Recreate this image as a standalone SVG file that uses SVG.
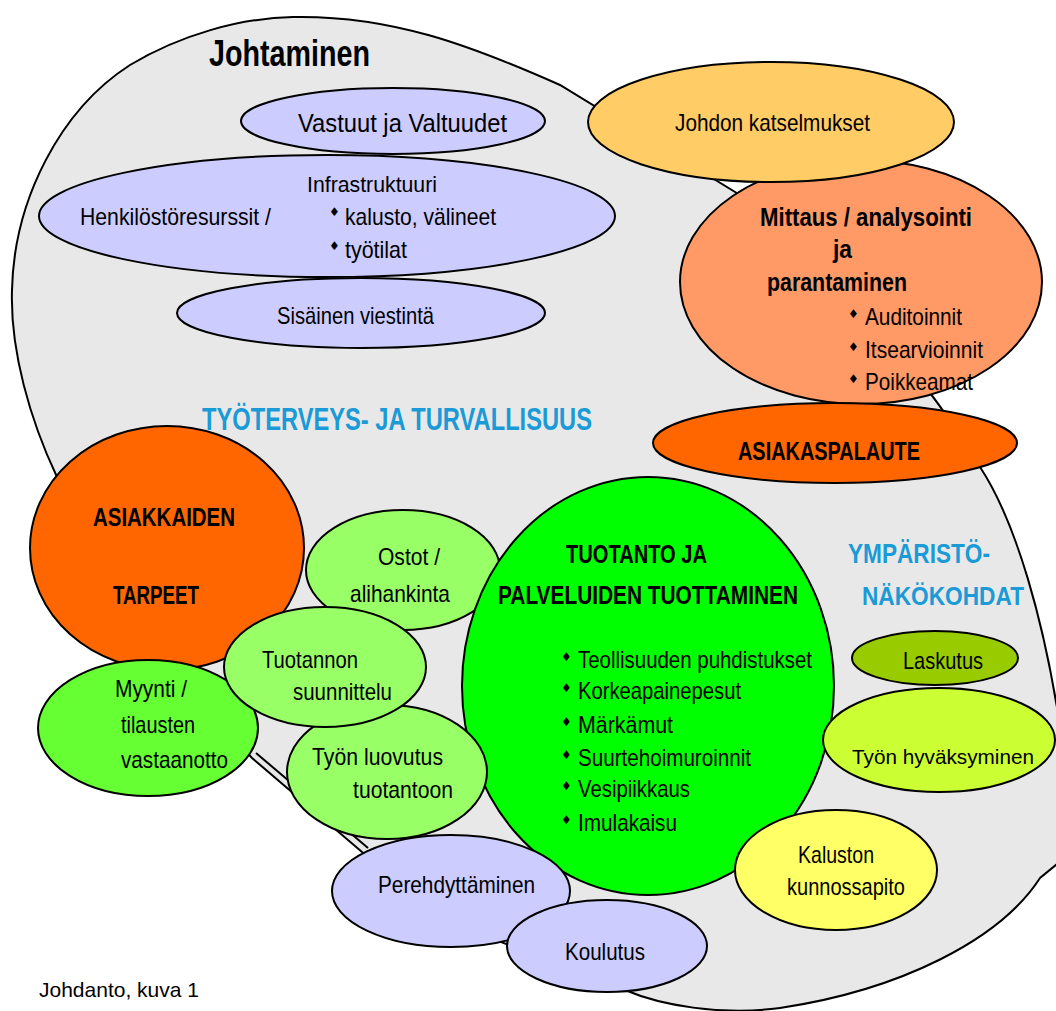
<svg xmlns="http://www.w3.org/2000/svg" width="1056" height="1011" viewBox="0 0 1056 1011">
<defs>
<style>
.t{font-family:"Liberation Sans",Arial,sans-serif;font-size:24px;fill:#000}
.b{font-weight:bold}
.blue{font-family:"Liberation Sans",Arial,sans-serif;font-weight:bold;fill:#1a9ad6}
.e{stroke:#000;stroke-width:2}
.bl{font-family:"DejaVu Sans","Liberation Sans",sans-serif;font-size:12px;fill:#000}
.lav{fill:#ccccff}
.lg{fill:#99ff66}
</style>
</defs>
<rect width="1056" height="1011" fill="#ffffff"/>

<g id="region-johtaminen">
<path class="e" fill="#e8e8e8" d="M57,477 C30,420 10,350 12,290 C14,200 60,110 130,65 C180,35 240,18 293,17 C390,15 470,45 560,85 L740,195 C850,280 940,400 980,467 C1015,520 1045,620 1062,740 L1062,860 L1040,878 C1000,940 900,990 780,1008 C720,1016 660,1005 625,990 L470,930 L362,852 L252,758 L150,650 Z"/>
<path d="M256,753 L368,848" stroke="#000" stroke-width="2" fill="none"/>
<text class="t b" x="209" y="66" style="font-size:37px" textLength="161" lengthAdjust="spacingAndGlyphs">Johtaminen</text>
</g>

<g id="vastuut">
<ellipse class="e lav" cx="393" cy="121" rx="152" ry="33"/>
<text class="t" x="298" y="132" style="font-size:25px" textLength="209" lengthAdjust="spacingAndGlyphs">Vastuut ja Valtuudet</text>
</g>

<g id="henkilosto">
<ellipse class="e lav" cx="327" cy="216" rx="288" ry="61"/>
<text class="t" x="80" y="225" textLength="191" lengthAdjust="spacingAndGlyphs">Henkilöstöresurssit /</text>
<text class="t" x="307" y="192" style="font-size:22px" textLength="130" lengthAdjust="spacingAndGlyphs">Infrastruktuuri</text>
<text class="bl" x="329" y="216">♦</text>
<text class="t" x="345" y="225" textLength="151" lengthAdjust="spacingAndGlyphs">kalusto, välineet</text>
<text class="bl" x="329" y="250">♦</text>
<text class="t" x="345" y="258" textLength="62" lengthAdjust="spacingAndGlyphs">työtilat</text>
</g>

<g id="sisainen">
<ellipse class="e lav" cx="361" cy="313" rx="184" ry="35"/>
<text class="t" x="277" y="324" textLength="157" lengthAdjust="spacingAndGlyphs">Sisäinen viestintä</text>
</g>

<g id="mittaus">
<ellipse class="e" fill="#ff9966" cx="861" cy="282" rx="181" ry="122"/>
<text class="t b" x="760" y="226" style="font-size:25px" textLength="212" lengthAdjust="spacingAndGlyphs">Mittaus / analysointi</text>
<text class="t b" x="833" y="258" style="font-size:25px" textLength="19" lengthAdjust="spacingAndGlyphs">ja</text>
<text class="t b" x="767" y="291" style="font-size:25px" textLength="140" lengthAdjust="spacingAndGlyphs">parantaminen</text>
<text class="bl" x="848" y="318">♦</text>
<text class="t" x="865" y="325" textLength="97" lengthAdjust="spacingAndGlyphs">Auditoinnit</text>
<text class="bl" x="848" y="351">♦</text>
<text class="t" x="865" y="358" textLength="118" lengthAdjust="spacingAndGlyphs">Itsearvioinnit</text>
<text class="bl" x="848" y="383">♦</text>
<text class="t" x="865" y="390" textLength="108" lengthAdjust="spacingAndGlyphs">Poikkeamat</text>
</g>

<g id="johdon-katselmukset">
<ellipse class="e" fill="#ffcc66" cx="771" cy="122" rx="183" ry="60"/>
<text class="t" x="675" y="131" textLength="195" lengthAdjust="spacingAndGlyphs">Johdon katselmukset</text>
</g>

<g id="asiakaspalaute">
<ellipse class="e" fill="#ff6600" cx="835" cy="443" rx="182" ry="40"/>
<text class="t b" x="738" y="460" style="font-size:25px" textLength="182" lengthAdjust="spacingAndGlyphs">ASIAKASPALAUTE</text>
</g>

<g id="asiakkaiden-tarpeet">
<ellipse class="e" fill="#ff6600" cx="167" cy="548" rx="137" ry="122"/>
<text class="t b" x="93" y="526" style="font-size:26px" textLength="142" lengthAdjust="spacingAndGlyphs">ASIAKKAIDEN</text>
<text class="t b" x="113" y="604" style="font-size:26px" textLength="86" lengthAdjust="spacingAndGlyphs">TARPEET</text>
</g>

<g id="ostot">
<ellipse class="e lg" cx="403" cy="570" rx="97" ry="60"/>
<text class="t" x="378" y="565" textLength="62" lengthAdjust="spacingAndGlyphs">Ostot /</text>
<text class="t" x="350" y="602" textLength="100" lengthAdjust="spacingAndGlyphs">alihankinta</text>
</g>

<g id="myynti">
<ellipse class="e" fill="#66ff33" cx="148" cy="728" rx="110" ry="68"/>
<text class="t" x="115" y="697" textLength="72" lengthAdjust="spacingAndGlyphs">Myynti /</text>
<text class="t" x="121" y="733" textLength="74" lengthAdjust="spacingAndGlyphs">tilausten</text>
<text class="t" x="121" y="768" textLength="107" lengthAdjust="spacingAndGlyphs">vastaanotto</text>
</g>

<g id="tuotanto">
<ellipse class="e" fill="#00ff00" cx="648" cy="686" rx="186" ry="209"/>
<text class="t b" x="566" y="563" style="font-size:25px" textLength="141" lengthAdjust="spacingAndGlyphs">TUOTANTO JA</text>
<text class="t b" x="498" y="604" style="font-size:25px" textLength="300" lengthAdjust="spacingAndGlyphs">PALVELUIDEN TUOTTAMINEN</text>
<text class="bl" x="561" y="661">♦</text>
<text class="t" x="578" y="668" textLength="234" lengthAdjust="spacingAndGlyphs">Teollisuuden puhdistukset</text>
<text class="bl" x="561" y="692">♦</text>
<text class="t" x="578" y="699" textLength="163" lengthAdjust="spacingAndGlyphs">Korkeapainepesut</text>
<text class="bl" x="561" y="726">♦</text>
<text class="t" x="578" y="733" textLength="95" lengthAdjust="spacingAndGlyphs">Märkämut</text>
<text class="bl" x="561" y="759">♦</text>
<text class="t" x="578" y="766" textLength="173" lengthAdjust="spacingAndGlyphs">Suurtehoimuroinnit</text>
<text class="bl" x="561" y="790">♦</text>
<text class="t" x="578" y="797" textLength="112" lengthAdjust="spacingAndGlyphs">Vesipiikkaus</text>
<text class="bl" x="561" y="824">♦</text>
<text class="t" x="578" y="831" textLength="99" lengthAdjust="spacingAndGlyphs">Imulakaisu</text>
</g>

<g id="tyon-luovutus">
<ellipse class="e lg" cx="387" cy="772" rx="100" ry="67"/>
<text class="t" x="312" y="765" textLength="131" lengthAdjust="spacingAndGlyphs">Työn luovutus</text>
<text class="t" x="353" y="798" textLength="100" lengthAdjust="spacingAndGlyphs">tuotantoon</text>
</g>

<g id="tuotannon-suunnittelu">
<ellipse class="e lg" cx="325" cy="667" rx="101" ry="60"/>
<text class="t" x="262" y="668" textLength="96" lengthAdjust="spacingAndGlyphs">Tuotannon</text>
<text class="t" x="293" y="700" textLength="99" lengthAdjust="spacingAndGlyphs">suunnittelu</text>
</g>

<g id="laskutus">
<ellipse class="e" fill="#99cc00" cx="935" cy="658" rx="83" ry="27"/>
<text class="t" x="903" y="669" textLength="80" lengthAdjust="spacingAndGlyphs">Laskutus</text>
</g>

<g id="tyon-hyvaksyminen">
<ellipse class="e" fill="#ccff33" cx="939" cy="740" rx="116" ry="52"/>
<text class="t" x="852" y="764" style="font-size:21px" textLength="182" lengthAdjust="spacingAndGlyphs">Työn hyväksyminen</text>
</g>

<g id="kaluston-kunnossapito">
<ellipse class="e" fill="#ffff66" cx="836" cy="870" rx="101" ry="60"/>
<text class="t" x="798" y="863" textLength="76" lengthAdjust="spacingAndGlyphs">Kaluston</text>
<text class="t" x="787" y="895" textLength="118" lengthAdjust="spacingAndGlyphs">kunnossapito</text>
</g>

<g id="perehdyttaminen">
<ellipse class="e lav" cx="451" cy="891" rx="119" ry="56"/>
<text class="t" x="378" y="893" textLength="157" lengthAdjust="spacingAndGlyphs">Perehdyttäminen</text>
</g>

<g id="koulutus">
<ellipse class="e lav" cx="607" cy="946" rx="100" ry="46"/>
<text class="t" x="565" y="960" textLength="80" lengthAdjust="spacingAndGlyphs">Koulutus</text>
</g>

<g id="label-tyoterveys">
<text class="blue" x="202" y="430" style="font-size:31px" textLength="390" lengthAdjust="spacingAndGlyphs">TYÖTERVEYS- JA TURVALLISUUS</text>
</g>

<g id="label-ymparisto">
<text class="blue" x="848" y="563" style="font-size:28px" textLength="142" lengthAdjust="spacingAndGlyphs">YMPÄRISTÖ-</text>
<text class="blue" x="862" y="605" style="font-size:26px" textLength="162" lengthAdjust="spacingAndGlyphs">NÄKÖKOHDAT</text>
</g>

<g id="footer">
<text class="t" x="39" y="997" style="font-size:21px" textLength="160" lengthAdjust="spacingAndGlyphs">Johdanto, kuva 1</text>
</g>

<g id="connectors"></g>
</svg>
